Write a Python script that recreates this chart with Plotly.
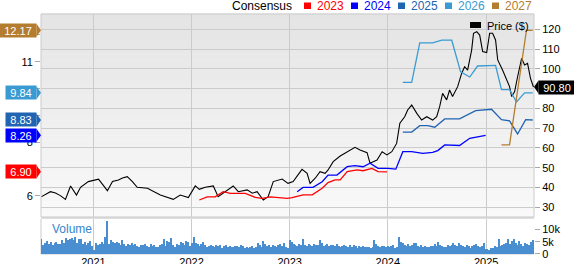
import plotly.graph_objects as go
import pandas as pd

FONT = "Liberation Sans, Arial, sans-serif"

# ---------------- data ----------------
price_dates = ["2020-06-22","2020-07-25","2020-08-13","2020-08-31","2020-09-19","2020-10-08","2020-10-30",
    "2020-11-14","2020-12-13","2021-01-20","2021-02-22","2021-03-13","2021-04-04","2021-04-19","2021-05-07",
    "2021-05-26","2021-06-13","2021-07-21","2021-09-07","2021-10-25","2021-11-20","2021-12-20","2022-01-15",
    "2022-01-30","2022-02-21","2022-03-23","2022-04-10","2022-05-06","2022-06-05","2022-06-24","2022-07-27",
    "2022-08-15","2022-09-02","2022-09-25","2022-10-13","2022-11-01","2022-12-04","2022-12-26","2023-01-14",
    "2023-02-16","2023-03-07","2023-03-18","2023-04-06","2023-04-24","2023-05-13","2023-05-24","2023-06-12",
    "2023-07-08","2023-08-03","2023-09-01","2023-09-20","2023-10-16","2023-10-27","2023-11-22","2023-12-11",
    "2023-12-29","2024-01-16","2024-02-03","2024-02-15","2024-03-04","2024-03-15","2024-03-30","2024-04-18",
    "2024-05-06","2024-05-25","2024-06-16","2024-07-01","2024-07-12","2024-07-23","2024-08-07","2024-08-18",
    "2024-08-29","2024-09-17","2024-10-02","2024-10-13","2024-10-24","2024-11-08","2024-11-15","2024-11-27",
    "2024-12-08","2024-12-19","2025-01-03","2025-01-14","2025-01-25","2025-02-05","2025-02-13","2025-03-03",
    "2025-03-18","2025-03-29","2025-04-06","2025-04-17","2025-04-28","2025-05-13","2025-05-24","2025-06-04",
    "2025-06-15","2025-06-26"]
price_vals = [35.4,37.9,37.2,35.9,34.0,40.8,36.2,40.1,43.0,44.2,38.4,43.0,43.8,44.8,45.5,43.0,40.1,39.6,36.2,
    34.0,36.2,34.9,40.8,39.1,40.1,40.8,35.4,37.9,40.8,37.9,38.8,37.1,37.9,33.7,35.4,43.0,44.3,42.1,43.0,49.2,
    47.2,42.1,44.7,48.0,47.2,48.9,53.1,55.9,58.1,60.3,59.0,57.6,52.3,53.9,58.1,56.5,58.1,62.3,72.5,75.8,79.2,
    81.7,77.5,74.1,75.8,74.1,75.8,80.9,87.6,84.3,89.3,86.0,91.0,97.8,101.1,99.4,109.5,118.0,118.8,117.1,108.7,
    108.2,118.0,118.0,114.6,104.5,99.4,94.4,91.0,86.0,88.5,96.0,105.3,102.0,102.8,95.2,90.8]

eps2023_dates = ["2022-01-30","2022-02-28","2022-03-30","2022-04-29","2022-05-25","2022-07-20","2022-08-26",
    "2022-09-21","2022-10-21","2022-12-23","2023-01-10","2023-02-20","2023-03-26","2023-05-02","2023-05-24",
    "2023-06-19","2023-07-08","2023-08-03","2023-09-09","2023-10-01","2023-11-03","2023-11-26","2023-12-29"]
eps2023_vals = [5.85,5.97,5.97,6.16,6.10,6.10,5.95,5.91,5.97,5.91,5.94,6.04,6.04,6.29,6.50,6.60,6.60,6.91,
    6.97,6.94,7.03,6.91,6.90]

eps2024_dates = ["2023-01-29","2023-02-20","2023-03-29","2023-05-02","2023-05-24","2023-06-26","2023-08-03",
    "2023-09-01","2023-10-01","2023-10-27","2023-11-26","2024-01-02","2024-01-31","2024-02-26","2024-03-30",
    "2024-05-10","2024-06-16","2024-07-05","2024-07-31","2024-09-24","2024-11-01","2024-12-30"]
eps2024_vals = [6.16,6.32,6.32,6.53,6.78,6.78,7.09,7.13,7.09,7.22,7.03,7.03,7.00,7.65,7.65,7.59,7.62,7.69,
    7.90,7.88,8.15,8.26]

eps2025_dates = ["2024-02-26","2024-03-30","2024-04-29","2024-05-29","2024-06-24","2024-07-31","2024-09-24",
    "2024-11-23","2025-01-21","2025-02-27","2025-03-29","2025-04-28","2025-05-28","2025-06-23"]
eps2025_vals = [8.38,8.38,8.62,8.62,8.56,8.87,8.87,9.18,9.23,8.84,8.80,8.31,8.84,8.83]

eps2026_dates = ["2024-02-26","2024-03-30","2024-04-29","2024-06-16","2024-07-20","2024-08-26","2024-09-28",
    "2024-11-01","2024-11-30","2025-02-05","2025-02-27","2025-03-29","2025-04-24","2025-05-24","2025-06-23"]
eps2026_vals = [10.23,10.23,11.70,11.70,11.80,11.80,10.62,10.43,10.84,10.86,9.96,9.96,9.50,9.84,9.84]

eps2027_dates = ["2025-02-27","2025-03-29","2025-05-31","2025-06-23"]
eps2027_vals = [7.90,7.90,12.17,12.17]

vol_start = "2020-06-22"
vol_2020 = [6.2,3.8,4.5,5.2,4.0,4.8,3.6,4.4,5.0,4.2,3.9,5.6,4.6,6.5,5.8,6.0,6.3,5.5,6.8,4.5,5.9,6.1,4.2,5.0,
    3.7,4.4,5.2,3.1]
vol_2021 = [1.8,4.5,3.6,4.2,4.8,3.9,6.8,13.5,4.2,5.5,4.7,4.6,4.9,4.4,3.6,5.8,4.1,3.2,4.0,3.7,4.5,3.6,4.2,3.4,
    2.9,3.5,3.8,4.0,3.3,2.7,3.9,3.1,3.5,2.8,3.0,3.6,4.0,6.2,3.4,5.3,4.8,6.6,3.7,2.9,4.1,3.6,5.0,4.3,3.8,5.2,
    4.9,3.3]
vol_2022 = [4.4,6.9,4.5,3.9,3.2,4.2,4.8,3.6,3.0,3.4,3.8,3.3,2.9,3.7,3.1,3.5,2.6,3.2,3.6,2.8,3.3,3.0,2.7,3.4,
    3.1,2.9,3.5,3.2,2.6,3.0,2.4,2.8,3.3,2.5,2.9,4.6,3.5,2.8,5.1,3.9,3.4,3.6,2.9,3.8,3.2,2.7,3.5,3.9,3.1,4.4,
    3.0,2.5]
vol_2023 = [5.8,4.9,4.0,3.6,3.4,3.9,3.5,6.0,3.8,3.4,4.2,3.6,3.3,3.9,3.7,3.5,5.5,4.3,3.2,3.6,4.0,3.3,3.8,3.5,
    3.1,3.9,3.4,2.8,3.3,3.6,3.2,3.0,3.5,2.9,3.7,3.3,2.6,3.1,2.9,3.4,3.0,2.7,2.8,2.6,3.0,5.6,3.9,3.4,2.9,3.3,
    3.1,2.7]
vol_2024 = [3.4,2.9,3.2,3.8,2.6,3.0,6.8,4.9,4.3,3.6,3.4,3.9,3.1,3.5,4.6,4.4,3.3,3.0,3.6,2.7,3.2,3.0,2.8,3.4,
    3.1,4.1,3.3,4.9,3.6,3.2,3.0,2.8,3.5,3.2,3.8,4.3,3.7,3.1,4.4,3.6,3.3,2.9,3.5,3.1,2.6,3.3,3.6,4.0,3.2,2.8,
    3.4,4.5]
vol_2025 = [1.9,2.1,1.8,2.4,2.6,3.3,3.0,6.2,3.4,3.8,4.1,4.6,6.0,4.2,5.2,5.9,4.6,3.7,5.4,3.9,3.4,4.3,4.1,3.8,
    4.9,5.6]
vol_vals = vol_2020 + vol_2021 + vol_2022 + vol_2023 + vol_2024 + vol_2025
vol_dates = pd.date_range(vol_start, periods=len(vol_vals), freq="7D")

year_ticks = ["2021-01-01", "2022-01-01", "2023-01-01", "2024-01-01", "2025-01-01"]
year_labels = ["2021", "2022", "2023", "2024", "2025"]
price_ticks = [30, 40, 50, 60, 70, 80, 90, 100, 110, 120]
price_labels = ["30", "40", "50", "60", "70", "80", "", "100", "110", "120"]
eps_ticks = [6, 7, 8, 9, 10, 11, 12]
eps_labels = ["6", "", "8", "", "", "11", ""]
vol_ticks = [0, 5, 10]
vol_labels = ["0", "5k", "10k"]

series = [
    ("2023", eps2023_dates, eps2023_vals, "#FF0000", "6.90"),
    ("2024", eps2024_dates, eps2024_vals, "#0000FF", "8.26"),
    ("2025", eps2025_dates, eps2025_vals, "#2164B2", "8.83"),
    ("2026", eps2026_dates, eps2026_vals, "#3A9BD2", "9.84"),
    ("2027", eps2027_dates, eps2027_vals, "#B37C2E", "12.17"),
]
last_price_label = "90.80"

# ---------------- figure ----------------
fig = go.Figure()

fig.add_trace(go.Bar(x=vol_dates, y=vol_vals, xaxis="x2", yaxis="y3",
                     marker=dict(color="#4A8ED2", line=dict(width=0)),
                     width=4.8 * 86400000))

for name, d, v, c, lab in series:
    fig.add_trace(go.Scatter(x=d, y=v, xaxis="x", yaxis="y2", mode="lines",
                             line=dict(color=c, width=1.3), hoverinfo="skip"))

fig.add_trace(go.Scatter(x=price_dates, y=price_vals, xaxis="x", yaxis="y", mode="lines",
                         line=dict(color="black", width=1.1)))

xr = ["2020-06-20", "2025-06-28"]
grid = "#CBCBCB"
tickc = "#A8A8A8"
fig.update_layout(
    width=574, height=264, margin=dict(l=41, r=40, t=14, b=10, autoexpand=False),
    paper_bgcolor="white", plot_bgcolor="rgba(0,0,0,0)", showlegend=False,
    font=dict(family=FONT, size=11, color="black"),
    bargap=0,
    xaxis=dict(domain=[0, 1], anchor="y", range=xr, type="date", tickvals=year_ticks,
               showticklabels=False, showgrid=True, gridcolor=grid, gridwidth=1, ticks="",
               zeroline=False, showline=False, automargin=False),
    xaxis2=dict(domain=[0, 1], anchor="y3", range=xr, type="date", matches="x", tickvals=year_ticks,
                ticktext=year_labels, showgrid=True, gridcolor=grid, ticks="", zeroline=False,
                showline=False, tickfont=dict(size=11, color="black"), automargin=False),
    yaxis=dict(domain=[0.1542, 1], anchor="x", side="right", range=[25.1, 127.73],
               tickvals=price_ticks, ticktext=price_labels, showgrid=True, gridcolor=grid,
               ticks="outside", ticklen=5, tickcolor=tickc, zeroline=False, showline=False,
               automargin=False),
    yaxis2=dict(overlaying="y", anchor="x", side="left", range=[5.218, 12.776],
                tickvals=eps_ticks, ticktext=eps_labels, showgrid=False, ticks="outside", ticklen=5,
                tickcolor=tickc, zeroline=False, showline=False, automargin=False),
    yaxis3=dict(domain=[0, 0.1458], anchor="x2", side="right", range=[0, 14.2],
                tickvals=vol_ticks, ticktext=vol_labels, showgrid=False, ticks="outside",
                ticklen=5, tickcolor=tickc, zeroline=False, showline=False, automargin=False),
)

shapes = []
# gradient background of price panel
nb = 40
for i in range(nb):
    f = i / (nb - 1)
    g = int(round(0xE4 + (0xF9 - 0xE4) * f))
    shapes.append(dict(type="rect", xref="x domain", yref="y domain", x0=0, x1=1,
                       y0=1 - (i + 1) / nb, y1=1 - i / nb + 0.002, layer="below",
                       fillcolor=f"rgb({g},{g},{g})", line=dict(width=0)))
# separator band
shapes.append(dict(type="rect", xref="paper", yref="paper", x0=0, x1=1, y0=0.1458, y1=0.1542,
                   fillcolor="#DEDEDE", line=dict(width=0), layer="below"))
# frames
shapes.append(dict(type="rect", xref="paper", yref="paper", x0=0, x1=1, y0=0.1542, y1=1,
                   line=dict(color=grid, width=1), fillcolor="rgba(0,0,0,0)", layer="below"))
shapes.append(dict(type="line", xref="paper", yref="paper", x0=0, x1=0, y0=0, y1=0.1458,
                   line=dict(color=grid, width=1), layer="below"))
shapes.append(dict(type="line", xref="paper", yref="paper", x0=0, x1=1, y0=0, y1=0,
                   line=dict(color=grid, width=1), layer="below"))

annotations = []
# EPS value tags on the left
for name, d, v, c, lab in series:
    w = 36 if len(lab) > 4 else 30
    annotations.append(dict(x=0, xref="paper", y=v[-1], yref="y2", xanchor="right", yanchor="middle",
                            xshift=-4, text=lab, showarrow=False, bgcolor=c, width=w, height=13,
                            borderpad=0, font=dict(color="white", size=11, family=FONT)))
    shapes.append(dict(type="path", xref="paper", xsizemode="pixel", xanchor=0,
                       yref="y2", ysizemode="pixel", yanchor=v[-1],
                       path="M -4.5,6.5 L 0,0 L -4.5,-6.5 Z", fillcolor=c, line=dict(width=0)))

# last price tag on the right
annotations.append(dict(x=1, xref="paper", y=price_vals[-1], yref="y", xanchor="left", yanchor="middle",
                        xshift=4, text=last_price_label, showarrow=False, bgcolor="black", width=36,
                        height=13, borderpad=0, font=dict(color="white", size=11, family=FONT)))
shapes.append(dict(type="path", xref="paper", xsizemode="pixel", xanchor=1,
                   yref="y", ysizemode="pixel", yanchor=price_vals[-1],
                   path="M 4.5,6.5 L 0,0 L 4.5,-6.5 Z", fillcolor="black", line=dict(width=0)))

# Consensus legend at top
def py(px):
    return (254 - px) / 240.0

def pxx(px):
    return (px - 41) / 493.0

annotations.append(dict(x=pxx(230), y=py(6), xref="paper", yref="paper", xanchor="left", yanchor="middle",
                        text="Consensus", showarrow=False, font=dict(size=12, color="black", family=FONT)))
for k, (name, d, v, c, lab) in enumerate(series):
    sx = 304 + 47 * k
    shapes.append(dict(type="rect", xref="paper", yref="paper", x0=pxx(sx), x1=pxx(sx + 7),
                       y0=py(9), y1=py(2.5), fillcolor=c, line=dict(width=0)))
    annotations.append(dict(x=pxx(sx + 11), y=py(6), xref="paper", yref="paper", xanchor="left",
                            yanchor="middle", text=name, showarrow=False,
                            font=dict(size=12, color=c, family=FONT)))

# Price legend
shapes.append(dict(type="rect", xref="paper", yref="paper", x0=pxx(470), x1=pxx(481),
                   y0=py(28), y1=py(22), fillcolor="black", line=dict(width=0)))
annotations.append(dict(x=pxx(485), y=py(25.5), xref="paper", yref="paper", xanchor="left",
                        yanchor="middle", text="Price ($)", showarrow=False,
                        font=dict(size=11, color="black", family=FONT)))
# Volume label
annotations.append(dict(x=pxx(50), y=py(229), xref="paper", yref="paper", xanchor="left",
                        yanchor="middle", text="Volume", showarrow=False,
                        font=dict(size=12, color="#3585CF", family=FONT)))

fig.update_layout(shapes=shapes, annotations=annotations)
fig.write_html("out.html")
